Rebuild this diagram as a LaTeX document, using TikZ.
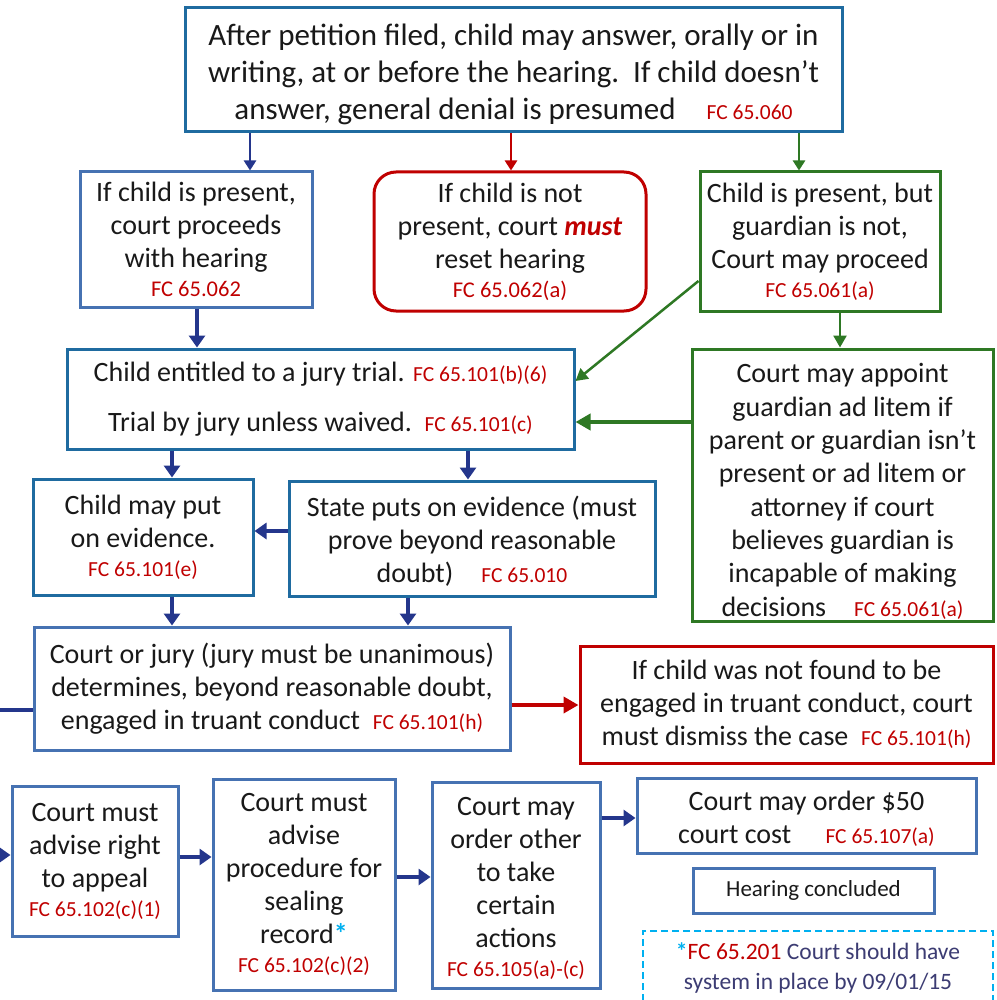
\documentclass[tikz,border=0pt]{standalone}
\usepackage{fontspec}
\setmainfont{Carlito}
\usetikzlibrary{arrows.meta}

\definecolor{tealb}{RGB}{31,107,160}
\definecolor{midb}{RGB}{70,114,178}
\definecolor{redb}{RGB}{192,0,0}
\definecolor{greenb}{RGB}{46,120,36}
\definecolor{navy}{RGB}{36,54,140}
\definecolor{fcred}{RGB}{192,0,0}
\definecolor{txt}{RGB}{25,25,25}
\definecolor{skyb}{RGB}{0,176,240}
\definecolor{notetxt}{RGB}{60,60,115}

% statute reference in small red type
\newcommand\fc[1]{{\fontsize{21.5}{24}\selectfont\color{fcred}#1}}
\newcommand\fcl[1]{{\fontsize{22.5}{25}\selectfont\color{fcred}#1}}
\newcommand\bodyfont{\fontsize{28}{33}\selectfont}

% \boxnode{name}{style}{x1}{y1}{x2}{y2}{text}
\newcommand\boxnode[7]{%
  \node[#2, minimum width={(#5-#3)*1pt}, minimum height={(#6-#4)*1pt}]
    (#1) at ({(#3+#5)/2},{(#4+#6)/2}) {#7};}

\tikzset{
  basebox/.style={draw, line width=3pt, inner sep=0pt, align=center, text=txt, font=\bodyfont},
  tealbox/.style={basebox, draw=tealb},
  midbox/.style={basebox, draw=midb},
  redbox/.style={basebox, draw=redb, rounded corners=22pt},
  redsq/.style={basebox, draw=redb},
  greenbox/.style={basebox, draw=greenb},
  notebox/.style={draw=skyb, line width=2pt, dash pattern=on 7pt off 4pt, inner sep=0pt,
     align=center, text=notetxt, font=\fontsize{23.5}{30}\selectfont},
  navyarr/.style={draw=navy, line width=4.5pt, -{Triangle[length=12pt,width=16pt]}},
  toparr/.style={line width=2.6pt, -{Triangle[length=10pt,width=12pt]}},
  greenarr/.style={draw=greenb, line width=2.5pt, -{Triangle[length=12pt,width=13pt]}},
  bigarr/.style={line width=4.5pt, -{Triangle[length=15pt,width=16pt]}},
}

\begin{document}
\begin{tikzpicture}[x=1pt, y=-1pt]
\path[use as bounding box, fill=white] (0,0) rectangle (996,1000);

% ---- boxes ----
\boxnode{top}{tealbox, font=\fontsize{31}{37}\selectfont}{185}{8}{842}{132}
  {\rule{0pt}{31pt}After petition filed, child may answer, orally or in\\
   writing, at or before the hearing.\ \ If child doesn’t\\
   answer, general denial is presumed\quad\fc{FC 65.060}}

\boxnode{A}{midbox}{80}{172}{312}{307}
  {If child is present,\\ court proceeds\\ with hearing\\[-4pt] \fcl{FC 65.062}}

\boxnode{B}{redbox}{374}{172}{646}{311}
  {If child is not\\ present, court \textcolor{redb}{\textbf{\textit{must}}}\\ reset hearing\\[-4pt] \fcl{FC 65.062(a)}}

\boxnode{C}{greenbox}{700}{172}{940}{311}
  {Child is present, but\\ guardian is not,\\ Court may proceed\\[-4pt] \fc{FC 65.061(a)}}

\boxnode{D}{tealbox}{67}{349}{574}{449}
  {Child entitled to a jury trial. \fc{FC 65.101(b)(6)}\\[17pt]
   Trial by jury unless waived.\ \ \fc{FC 65.101(c)}}

\boxnode{E}{greenbox, font=\fontsize{28}{33.3}\selectfont}{692}{349}{993}{621}
  {\rule{0pt}{32pt}Court may appoint\\ guardian ad litem if\\ parent or guardian isn’t\\
   present or ad litem or\\ attorney if court\\ believes guardian is\\
   incapable of making\\ decisions\quad\fc{FC 65.061(a)}}

\boxnode{F}{tealbox}{33}{479}{253}{595}
  {Child may put\\ on evidence.\\[-4pt] \fc{FC 65.101(e)}}

\boxnode{G}{tealbox}{289}{481}{655}{596}
  {\rule{0pt}{26pt}State puts on evidence (must\\ prove beyond reasonable\\ doubt)\quad\fc{FC 65.010}}

\boxnode{H}{midbox}{34}{627}{510}{750}
  {Court or jury (jury must be unanimous)\\ determines, beyond reasonable doubt,\\
   engaged in truant conduct\ \ \fc{FC 65.101(h)}}

\boxnode{I}{redsq}{580}{646}{993}{763}
  {If child was not found to be\\ engaged in truant conduct, court\\
   must dismiss the case\ \ \fc{FC 65.101(h)}}

\boxnode{J}{midbox}{12}{786}{178}{936}
  {Court must\\ advise right\\ to appeal\\[-4pt] \fc{FC 65.102(c)(1)}}

\boxnode{K}{midbox}{213}{779}{395}{990}
  {Court must\\ advise\\ procedure for\\ sealing\\
   record\textcolor{skyb}{\textbf{*}}\\[-4pt] \fc{FC 65.102(c)(2)}}

\boxnode{L}{midbox}{432}{782}{600}{988}
  {\rule{0pt}{24pt}Court may\\ order other\\ to take\\ certain\\ actions\\[-4pt] \fc{FC 65.105(a)-(c)}}

\boxnode{M}{midbox}{637}{778}{976}{853}
  {\rule{0pt}{26pt}Court may order \$50\\ court cost\quad\ \fc{FC 65.107(a)}}

\boxnode{N}{midbox, font=\fontsize{23}{26}\selectfont}{693}{868}{934}{913}
  {Hearing concluded}

\boxnode{note}{notebox}{643}{931}{993}{1004}
  {\textcolor{skyb}{\textbf{*}}\textcolor{fcred}{FC 65.201} Court should have\\ system in place by 09/01/15}

% ---- column positions of vertical connectors ----
\coordinate (xTA) at (250,0);
\coordinate (xTB) at (511,0);
\coordinate (xTC) at (799,0);
\coordinate (xAD) at (197,0);
\coordinate (xCE) at (840,0);
\coordinate (xDF) at (172,0);
\coordinate (xDG) at (468,0);
\coordinate (xGH) at (408,0);
% row positions of horizontal and slanted connectors
\coordinate (yCD) at (0,281);
\coordinate (yCD2) at (0,381);
\coordinate (yED) at (0,422);
\coordinate (yGF) at (0,531);
\coordinate (yHI) at (0,705);
\coordinate (yJK) at (0,857);
\coordinate (yKL) at (0,877);
\coordinate (yLM) at (0,818);
% connectors entering from the left margin
\coordinate (inH) at (0,710);
\coordinate (inJ) at (0,855);

% ---- connectors ----
\draw[toparr, draw=navy, fill=navy] (top.south -| xTA) -- (A.north -| xTA);
\draw[toparr, draw=redb, fill=redb] (top.south -| xTB) -- (B.north -| xTB);
\draw[toparr, draw=greenb, fill=greenb] (top.south -| xTC) -- (C.north -| xTC);

\draw[navyarr] (A.south -| xAD) -- (D.north -| xAD);
\draw[greenarr] (C.west |- yCD) -- (D.east |- yCD2);
\draw[greenarr] (C.south -| xCE) -- (E.north -| xCE);
\draw[bigarr, draw=greenb] (E.west |- yED) -- (D.east |- yED);

\draw[navyarr] (D.south -| xDF) -- (F.north -| xDF);
\draw[navyarr] (D.south -| xDG) -- (G.north -| xDG);
\draw[navyarr] (G.west |- yGF) -- (F.east |- yGF);
\draw[navyarr] (F.south -| xDF) -- (H.north -| xDF);
\draw[navyarr] (G.south -| xGH) -- (H.north -| xGH);

\draw[bigarr, draw=redb] (H.east |- yHI) -- (I.west |- yHI);

\draw[draw=navy, line width=4.5pt] (inH) -- (H.west |- inH);
\draw[navyarr] (inJ) -- (J.west |- inJ);
\draw[navyarr] (J.east |- yJK) -- (K.west |- yJK);
\draw[navyarr] (K.east |- yKL) -- (L.west |- yKL);
\draw[navyarr] (L.east |- yLM) -- (M.west |- yLM);
\end{tikzpicture}
\end{document}
